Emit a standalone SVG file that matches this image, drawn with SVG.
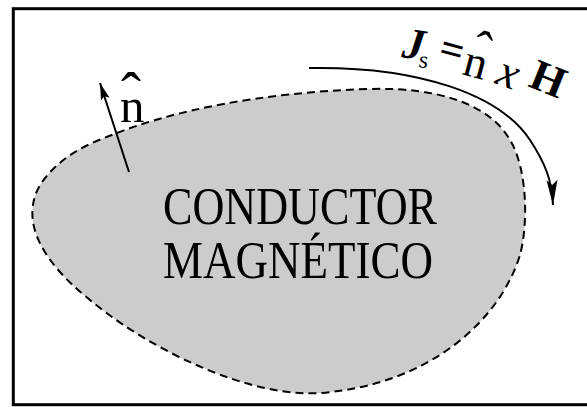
<svg xmlns="http://www.w3.org/2000/svg" width="587" height="407" viewBox="0 0 587 407">
<style>
text{font-family:"Liberation Serif","Times New Roman",serif;fill:#000}
</style>
<defs>
<marker id="ah" viewBox="-26 -6 27 12" refX="0" refY="0" markerWidth="27" markerHeight="12" markerUnits="userSpaceOnUse" orient="auto">
<path d="M0,0 L-25,-5.5 L-20,0 L-25,5.5 Z" fill="#000"/>
</marker>
<marker id="ah2" viewBox="-18 -5 19 10" refX="0" refY="0" markerWidth="19" markerHeight="10" markerUnits="userSpaceOnUse" orient="auto">
<path d="M0,0 L-17,-4.5 L-14,0 L-17,4.5 Z" fill="#000"/>
</marker>
</defs>
<rect x="13.3" y="8.7" width="600" height="396" fill="#fff" stroke="#000" stroke-width="3"/>
<g id="conductor">
<path d="M117,133 C170,112 260,92 370,89 C440,87 490,105 510,140 C528,170 528,225 520,255 C500,320 430,385 320,393 C250,398 150,350 90,300 C40,260 20,220 40,185 C60,155 90,143 117,133 Z" fill="#cccccc" stroke="#000" stroke-width="2" stroke-dasharray="8,5"/>
<text font-size="44" x="163" y="188.6" textLength="274" lengthAdjust="spacingAndGlyphs" transform="scale(1,1.19)">CONDUCTOR</text>
<text font-size="44" x="163" y="233.2" textLength="270" lengthAdjust="spacingAndGlyphs" transform="scale(1,1.19)">MAGNÉTICO</text>
</g>
<g id="normal">
<line x1="129" y1="172" x2="100" y2="83" stroke="#000" stroke-width="2" marker-end="url(#ah2)"/>
<text x="120" y="122" font-size="49">n</text>
<text x="121" y="113" font-size="60">ˆ</text>
</g>
<g id="current">
<path d="M309,68 C420,66 500,95 530,140 C545,163 552,180 553,205" fill="none" stroke="#000" stroke-width="2" marker-end="url(#ah)"/>
<text font-size="44" font-weight="bold" font-style="italic" transform="translate(401,57) rotate(8)">J</text>
<text font-size="24" transform="translate(418,67) rotate(8)">s</text>
<text font-size="42" font-weight="bold" transform="translate(437,60) rotate(15)">=</text>
<text font-size="46" transform="translate(461,74) rotate(15)">n</text>
<text font-size="52" transform="translate(469,64) rotate(15)">ˆ</text>
<text font-size="46" font-style="italic" transform="translate(494,83) rotate(20)">x</text>
<text font-size="44" font-weight="bold" transform="translate(527,86) rotate(22)">H</text>
</g>
</svg>
